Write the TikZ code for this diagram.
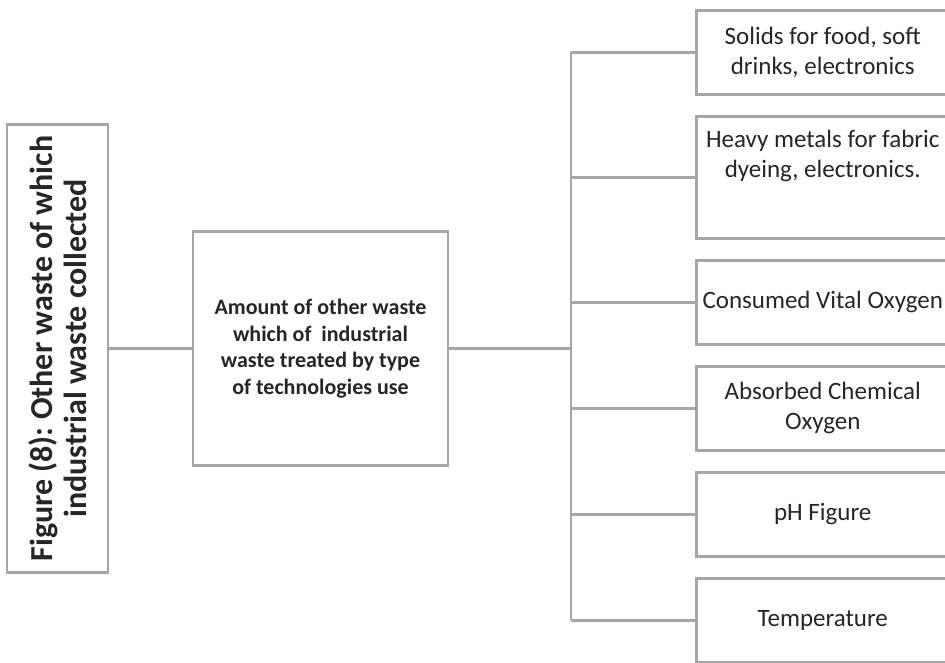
\documentclass[tikz,border=0pt]{standalone}
\usepackage{fontspec}
\setmainfont{Carlito}
\usepackage{xcolor}
\usepackage{tikz}
\usetikzlibrary{positioning}
\definecolor{edgegray}{HTML}{A6A6A6}
\definecolor{textgray}{HTML}{262626}
\frenchspacing

\begin{document}
\begin{tikzpicture}[
    x=1pt, y=-1pt,
    node distance=19.5pt,
    box/.style={rectangle, draw=edgegray, line width=2.5pt, text=textgray, align=center, inner sep=4pt},
    item/.style={box, minimum width=253pt, minimum height=84pt, font=\fontsize{25}{30}\selectfont},
    link/.style={draw=edgegray, line width=2.5pt}
]
\useasboundingbox (0,0) rectangle (945,662);

% Titre vertical et boite centrale
\node[box, rotate=90, minimum width=448pt, minimum height=101pt, font=\bfseries\fontsize{32}{33.5}\selectfont] (title) at (57.5,348.5) {Figure (8): Other waste of which\\industrial waste collected};
\node[box, minimum width=255pt, minimum height=234pt, font=\bfseries\fontsize{22}{26.5}\selectfont] (amount) at (320.5,348.5) {Amount of other waste\\which of~ industrial\\waste treated by type\\of technologies use};

% Parametres
\node[item, anchor=north west] (solids) at (695,9) {Solids for food, soft\\drinks, electronics};
\node[item, minimum height=122pt, text depth=47pt, below=of solids] (metals) {Heavy metals for fabric\\dyeing, electronics.};
\node[item, below=of metals] (vital) {Consumed Vital Oxygen};
\node[item, below=of vital] (chemical) {Absorbed Chemical\\Oxygen};
\node[item, below=of chemical] (ph) {pH Figure};
\node[item, below=of ph] (temp) {Temperature};

% Liaisons
\coordinate (hub) at (571,348.5);
\draw[link] (title) -- (amount);
\draw[link] (amount) -- (hub);
\draw[link] (solids.west -| hub) -- (temp.west -| hub);
\draw[link] (solids.west -| hub) -- (solids.west);
\draw[link] (metals.west -| hub) -- (metals.west);
\draw[link] (vital.west -| hub) -- (vital.west);
\draw[link] (chemical.west -| hub) -- (chemical.west);
\draw[link] (ph.west -| hub) -- (ph.west);
\draw[link] (temp.west -| hub) -- (temp.west);

\end{tikzpicture}
\end{document}
